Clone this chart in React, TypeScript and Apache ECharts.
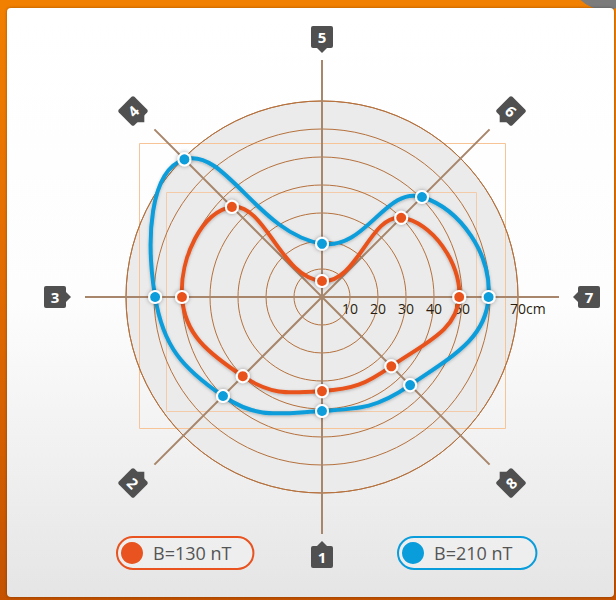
import React, { useEffect, useRef } from "react";
import * as echarts from "echarts";

// Directions (degrees, counter-clockwise from the right-hand axis) and their labels
const directionAngles = [0, 45, 90, 135, 180, 225, 270, 315];
const directionLabels = ["7", "6", "5", "4", "3", "2", "1", "8"];

// Radius values (cm) along each direction
const b130Values = [49, 40, 5.7, 45.5, 50, 40, 33.6, 35];
const b210Values = [59.5, 50.5, 19, 69.5, 59.6, 50, 40.7, 44.5];

const seriesNames = ["B=130 nT", "B=210 nT"];
const radiusMax = 70;
const radiusStep = 10;

const ORANGE = "#e8531f";
const BLUE = "#0a9ddb";
const RING = "#b5713d";
const CX = 322;
const CY = 297;

function closedSmoothPath(pts: number[][], s: number) {
  const n = pts.length;
  const outCp: number[][] = [];
  const inCp: number[][] = [];
  for (let i = 0; i < n; i++) {
    const p = pts[i];
    const prev = pts[(i - 1 + n) % n];
    const next = pts[(i + 1) % n];
    const vx = next[0] - prev[0];
    const vy = next[1] - prev[1];
    const lp = Math.hypot(p[0] - prev[0], p[1] - prev[1]);
    const ln = Math.hypot(next[0] - p[0], next[1] - p[1]);
    const r = ln / (lp + ln);
    outCp.push([p[0] + vx * s * r, p[1] + vy * s * r]);
    inCp.push([p[0] - vx * s * (1 - r), p[1] - vy * s * (1 - r)]);
  }
  let d = `M${pts[0][0]},${pts[0][1]}`;
  for (let i = 0; i < n; i++) {
    const j = (i + 1) % n;
    d += ` C${outCp[i][0]},${outCp[i][1]} ${inCp[j][0]},${inCp[j][1]} ${pts[j][0]},${pts[j][1]}`;
  }
  return d + " Z";
}

function makeCurve(name: string, values: number[], color: string) {
  return {
    type: "custom",
    name,
    coordinateSystem: "polar",
    polarIndex: 1,
    z: 3,
    data: values.map((v, i) => [v, directionAngles[i]]),
    itemStyle: { color },
    renderItem: (params: any, api: any) => {
      if (params.dataIndexInside !== 0) return null;
      const n = params.dataInsideLength;
      const pts: number[][] = [];
      for (let i = 0; i < n; i++) {
        pts.push(api.coord([api.value(0, i), api.value(1, i)]));
      }
      return {
        type: "path",
        shape: { pathData: closedSmoothPath(pts, 0.45) },
        style: {
          fill: "none",
          stroke: color,
          lineWidth: 4,
          shadowBlur: 3,
          shadowColor: "rgba(0,0,0,0.25)",
          shadowOffsetY: 1,
        },
      };
    },
  };
}

function makePoints(name: string, values: number[], color: string) {
  return {
    type: "scatter",
    name,
    coordinateSystem: "polar",
    polarIndex: 1,
    clip: false,
    z: 4,
    symbol: "circle",
    symbolSize: 12,
    data: values.map((v, i) => [v, directionAngles[i]]),
    itemStyle: {
      color,
      borderColor: "#ffffff",
      borderWidth: 2,
      opacity: 1,
      shadowBlur: 4,
      shadowColor: "rgba(0,0,0,0.35)",
    },
  };
}

function markerGraphics() {
  const els: any[] = [];
  directionLabels.forEach((lab, i) => {
    const deg = directionAngles[i];
    const a = (deg * Math.PI) / 180;
    const c = Math.cos(a);
    const s = Math.sin(a);
    let x: number, y: number;
    if (deg % 90 !== 0) {
      x = CX + Math.sign(c) * 189;
      y = CY - Math.sign(s) * 186;
    } else if (deg === 0 || deg === 180) {
      x = CX + Math.sign(c) * 267;
      y = CY;
    } else {
      x = CX;
      y = CY - Math.sign(s) * 260;
    }
    const boxRot = ((deg - 90) * Math.PI) / 180;
    let textDeg = 0;
    if (deg > 0 && deg < 180) textDeg = deg - 90;
    else if (deg > 180) textDeg = deg - 270;
    els.push({
      type: "group",
      x,
      y,
      rotation: boxRot,
      z: 10,
      children: [
        {
          type: "rect",
          shape: { x: -11, y: -11, width: 22, height: 22, r: 2 },
          style: { fill: "#505050" },
        },
        {
          type: "polygon",
          shape: { points: [[-6, 10], [6, 10], [0, 16]] },
          style: { fill: "#505050" },
        },
      ],
    });
    els.push({
      type: "text",
      x,
      y,
      rotation: (textDeg * Math.PI) / 180,
      z: 11,
      style: {
        text: lab,
        fill: "#ffffff",
        font: "bold 15px 'Open Sans', sans-serif",
        align: "center",
        verticalAlign: "middle",
      },
    });
  });
  return els;
}

const hiddenAngle = (polarIndex: number, extra: any = {}) => ({
  polarIndex,
  type: "value",
  min: 0,
  max: 360,
  interval: 45,
  startAngle: 0,
  clockwise: false,
  axisLine: { show: false },
  axisTick: { show: false },
  axisLabel: { show: false },
  splitLine: { show: false },
  ...extra,
});

export default function App() {
  const ref = useRef<HTMLDivElement>(null);
  useEffect(() => {
    if (!ref.current) return;
    const chart = echarts.init(ref.current, null, { renderer: "svg" });
    const legendBase = {
      top: 537,
      orient: "horizontal",
      icon: "circle",
      itemWidth: 22,
      itemHeight: 22,
      borderWidth: 2,
      borderRadius: 18,
      backgroundColor: "rgba(255,255,255,0.25)",
      itemStyle: { borderWidth: 0, shadowBlur: 0 },
      textStyle: {
        fontSize: 18,
        color: "#555555",
        fontFamily: "'Open Sans', sans-serif",
        padding: [0, 0, 0, 5],
      },
      selectedMode: false,
    };
    chart.setOption({
      animation: false,
      backgroundColor: "transparent",
      polar: [
        { center: [CX, CY], radius: 196 }, // grey disk
        { center: [CX, CY], radius: 196 }, // rings, labels, data
        { center: [CX, CY], radius: 237 }, // radial direction lines
      ],
      angleAxis: [
        hiddenAngle(0, { z: 0 }),
        hiddenAngle(1, { z: 1, axisLine: { show: true, lineStyle: { color: RING, width: 1 } } }),
        hiddenAngle(2, {
          z: 2,
          splitLine: { show: true, lineStyle: { color: "#a8866b", width: 2, type: "solid" } },
        }),
      ],
      radiusAxis: [
        {
          polarIndex: 0,
          type: "value",
          min: 0,
          max: radiusMax,
          interval: radiusMax,
          z: 0,
          axisLine: { show: false },
          axisTick: { show: false },
          axisLabel: { show: false },
          splitLine: { show: false },
          splitArea: { show: true, areaStyle: { color: ["#ebebeb", "#ebebeb"] } },
        },
        {
          polarIndex: 1,
          type: "value",
          min: 0,
          max: radiusMax,
          interval: radiusStep,
          z: 1,
          axisLine: { show: false },
          axisTick: { show: false },
          axisLabel: {
            show: true,
            showMaxLabel: true,
            margin: -4,
            verticalAlign: "top",
            color: "#2b1d10",
            fontSize: 14,
            fontFamily: "'Open Sans', sans-serif",
            formatter: (v: number) =>
              v === 0 ? "" : v === radiusMax ? `{h|cm}${v}cm` : String(v),
            rich: { h: { color: "transparent", fontSize: 14, fontFamily: "'Open Sans', sans-serif" } },
          },
          splitLine: { show: true, lineStyle: { color: RING, width: 1, type: "solid" } },
          splitArea: { show: false },
        },
        {
          polarIndex: 2,
          type: "value",
          min: 0,
          max: 1,
          z: 2,
          axisLine: { show: false },
          axisTick: { show: false },
          axisLabel: { show: false },
          splitLine: { show: false },
          splitArea: { show: false },
        },
      ],
      legend: [
        { ...legendBase, left: 117, padding: [5, 22, 5, 4], borderColor: ORANGE, data: [seriesNames[0]] },
        { ...legendBase, left: 398, padding: [5, 24, 5, 4], borderColor: BLUE, data: [seriesNames[1]] },
      ],
      graphic: [
        {
          type: "rect",
          z: 1,
          shape: { x: 139.5, y: 143.5, width: 366, height: 285 },
          style: { fill: "none", stroke: "#f6c497", lineWidth: 1 },
        },
        {
          type: "rect",
          z: 1,
          shape: { x: 166.5, y: 192.5, width: 310, height: 219 },
          style: { fill: "none", stroke: "#f3cba8", lineWidth: 1 },
        },
        ...markerGraphics(),
      ],
      series: [
        makePoints(seriesNames[0], b130Values, ORANGE),
        makePoints(seriesNames[1], b210Values, BLUE),
        makeCurve(seriesNames[0], b130Values, ORANGE),
        makeCurve(seriesNames[1], b210Values, BLUE),
      ],
    });
    return () => chart.dispose();
  }, []);

  return (
    <div
      style={{
        position: "fixed",
        left: 0,
        top: 0,
        width: 616,
        height: 600,
        overflow: "hidden",
        background: "linear-gradient(180deg, #f28000 0%, #e06a00 50%, #c45200 100%)",
      }}
    >
      <div
        style={{
          position: "absolute",
          left: 570,
          top: -60,
          width: 70,
          height: 70,
          borderRadius: "50%",
          background: "#7b7b7b",
        }}
      />
      <div
        style={{
          position: "absolute",
          left: 7,
          top: 8,
          width: 607,
          height: 589,
          borderRadius: 4,
          background: "linear-gradient(180deg, #ffffff 0%, #fdfdfd 50%, #e5e5e5 100%)",
          boxShadow: "0 0 3px rgba(0,0,0,0.35)",
        }}
      />
      <div ref={ref} style={{ position: "absolute", left: 0, top: 0, width: 616, height: 600 }} />
    </div>
  );
}
